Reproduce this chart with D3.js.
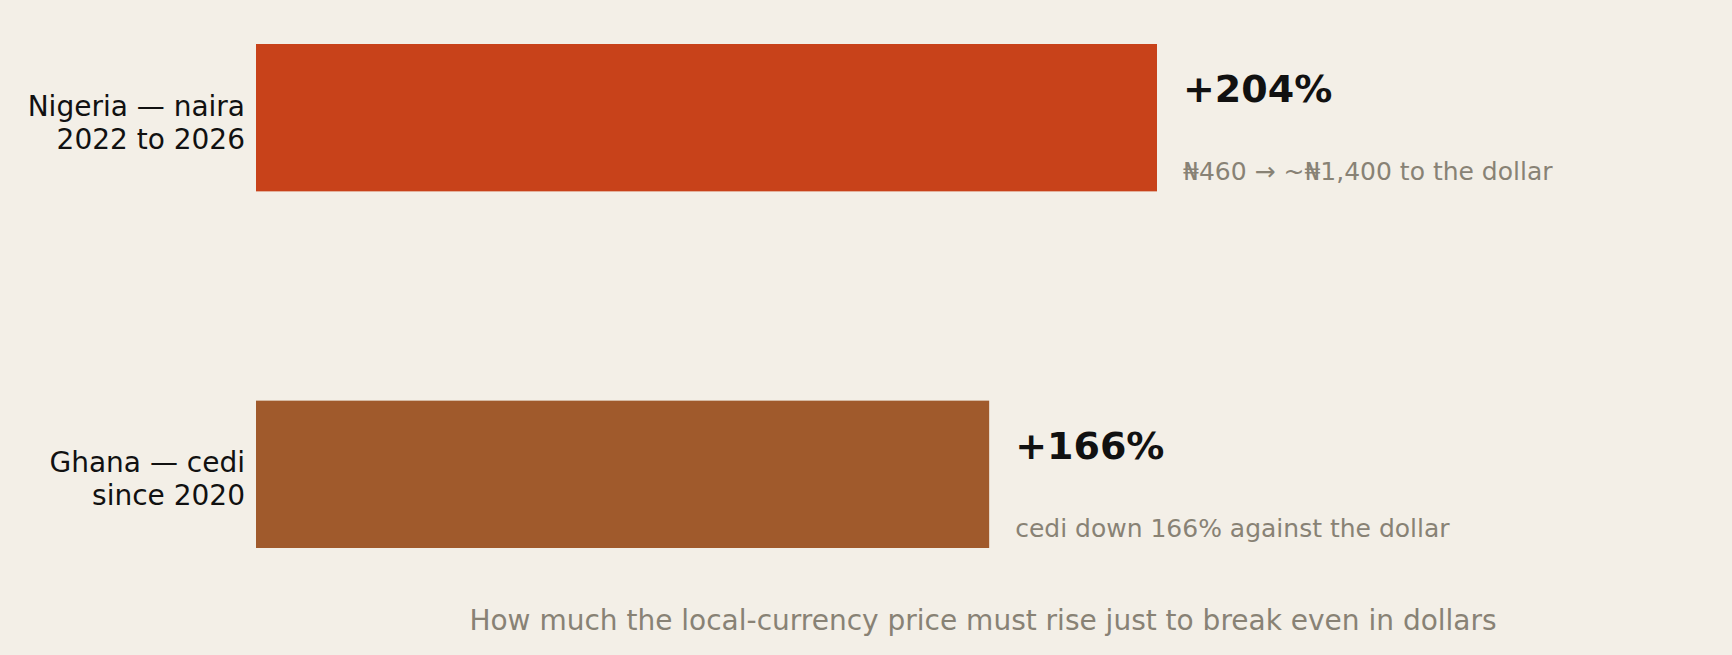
<!DOCTYPE html><html><head><meta charset="utf-8"><script src="https://cdn.jsdelivr.net/npm/d3@7"></script>
<style>body{margin:0;background:#f3efe7;font-family:"DejaVu Sans",sans-serif}</style></head><body><svg id="c" width="1732" height="655"></svg><script>
const labels1=["Nigeria — naira","Ghana — cedi"];
const labels2=["2022 to 2026","since 2020"];
const values=[204,166];
const valueLabels=["+204%","+166%"];
const notes=["₦460 → ~₦1,400 to the dollar","cedi down 166% against the dollar"];
const colors=["#c8421a","#a05a2c"];
const svg=d3.select("#c");
svg.append("rect").attr("width",1732).attr("height",655).attr("fill","#f3efe7");
const x=d3.scaleLinear().domain([0,204]).range([256,1157]);
const y=d3.scaleBand().domain(d3.range(2)).range([44,548]).paddingInner(0.5868);
const g=svg.selectAll("g.b").data(values).join("g");
g.append("rect").attr("x",x(0)).attr("y",(d,i)=>y(i)).attr("width",d=>x(d)-x(0)).attr("height",y.bandwidth()).attr("fill",(d,i)=>colors[i]);
g.append("text").attr("x",245).attr("y",(d,i)=>y(i)+y.bandwidth()/2-2).attr("text-anchor","end").attr("font-size",28).attr("fill","#111").text((d,i)=>labels1[i]);
g.append("text").attr("x",245).attr("y",(d,i)=>y(i)+y.bandwidth()/2+31).attr("text-anchor","end").attr("font-size",28).attr("fill","#111").text((d,i)=>labels2[i]);
g.append("text").attr("x",d=>x(d)+26).attr("y",(d,i)=>y(i)+58).attr("font-size",38).attr("font-weight","bold").attr("fill","#111").text((d,i)=>valueLabels[i]);
g.append("text").attr("x",d=>x(d)+26).attr("y",(d,i)=>y(i)+136).attr("font-size",25).attr("fill","#888275").text((d,i)=>notes[i]);
svg.append("text").attr("x",983).attr("y",630).attr("text-anchor","middle").attr("font-size",28).attr("fill","#888275").text("How much the local-currency price must rise just to break even in dollars");
</script></body></html>
